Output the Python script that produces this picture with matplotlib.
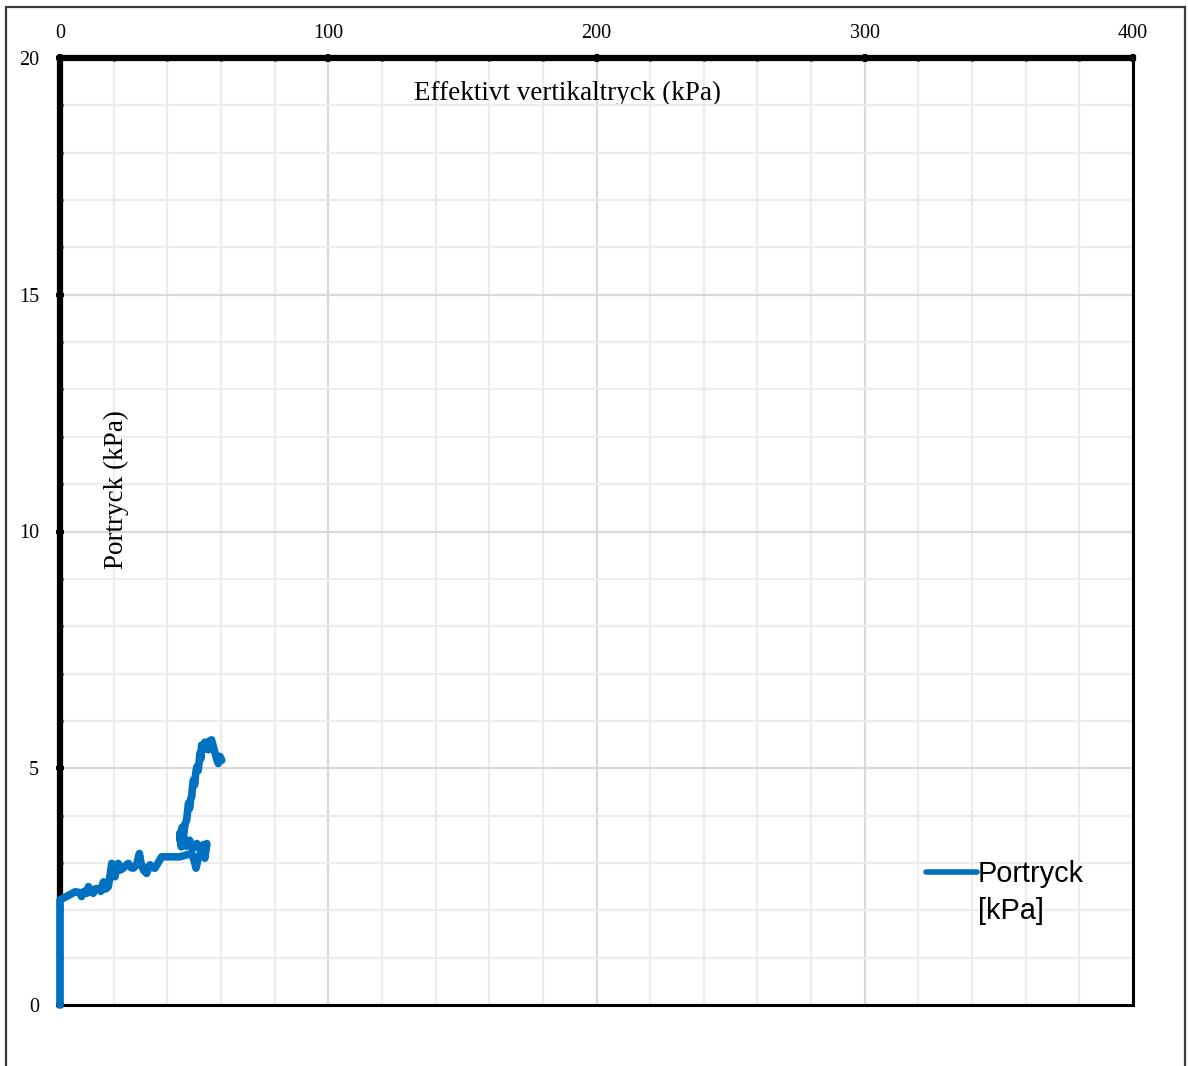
import matplotlib
matplotlib.use("Agg")
import matplotlib.pyplot as plt
from matplotlib.ticker import MultipleLocator
from matplotlib.patches import Rectangle
from matplotlib.legend_handler import HandlerLine2D

# Data: effective vertical stress (kPa) vs pore pressure (kPa)
stress = [0.0, 0.0, 2.0, 4.0, 5.6, 7.0, 7.5, 8.0, 9.0, 10.0, 10.6, 11.5, 12.4, 13.0,
          14.3, 15.2, 16.2, 17.0, 18.0, 18.7, 19.3, 20.0, 20.5, 21.2, 21.7, 22.5,
          23.6, 24.5, 25.5, 26.5, 27.3, 28.5, 29.6, 30.2, 31.1, 32.3, 33.0, 33.6,
          34.5, 35.4, 37.9, 44.7, 49.1, 50.0, 50.7, 51.5, 52.5, 53.4, 54.0, 54.7,
          54.3, 53.2, 52.0, 51.0, 49.5, 48.3, 47.2, 46.0, 45.2, 44.7, 44.9, 45.5,
          46.0, 46.6, 47.2, 47.5, 47.9, 48.3, 48.7, 49.1, 49.3, 49.7, 50.2, 50.6,
          51.0, 51.5, 52.2, 52.5, 52.8, 53.5, 54.0, 54.3, 55.3, 55.8, 56.5, 57.2,
          57.8, 58.4, 59.0, 59.6, 60.3]
pore = [0.0, 2.22, 2.28, 2.34, 2.39, 2.38, 2.36, 2.29, 2.40, 2.36, 2.50, 2.40, 2.36, 2.45,
        2.46, 2.40, 2.60, 2.45, 2.50, 2.75, 2.99, 2.80, 2.71, 2.95, 2.99, 2.85,
        2.89, 2.95, 2.99, 2.90, 2.89, 2.95, 3.20, 3.00, 2.85, 2.78, 2.92, 2.96,
        2.90, 2.89, 3.13, 3.13, 3.20, 3.05, 2.89, 3.10, 3.22, 3.27, 3.10, 3.41,
        3.30, 3.38, 3.30, 3.41, 3.30, 3.48, 3.35, 3.55, 3.34, 3.63, 3.45, 3.75,
        3.55, 3.82, 3.90, 4.05, 4.26, 4.15, 4.35, 4.40, 4.55, 4.75, 4.65, 4.90,
        5.03, 4.95, 5.32, 5.20, 5.49, 5.40, 5.55, 5.45, 5.39, 5.58, 5.60, 5.45,
        5.32, 5.20, 5.10, 5.25, 5.17]

x_ticks = [0, 100, 200, 300, 400]
y_ticks = [0, 5, 10, 15, 20]
x_label = "Effektivt vertikaltryck (kPa)"
y_label = "Portryck (kPa)"
series_label = "Portryck\n[kPa]"

plt.rcParams['font.family'] = ['Liberation Serif', 'DejaVu Serif']


class FirstLineHandler(HandlerLine2D):
    """Place the legend line next to the first text line."""
    def __init__(self, shift, **kw):
        super().__init__(**kw)
        self.shift = shift

    def create_artists(self, legend, orig_handle, xdescent, ydescent, width, height,
                       fontsize, trans):
        arts = super().create_artists(legend, orig_handle, xdescent, ydescent, width,
                                      height, fontsize, trans)
        for a in arts:
            a.set_ydata([y + self.shift * fontsize for y in a.get_ydata()])
        return arts


fig = plt.figure(figsize=(11.88, 10.66), dpi=100)
ax = fig.add_axes([60/1188, 1-1005/1066, (1133-60)/1188, (1005-58)/1066])

# outer frame
fig.patches.append(Rectangle((6/1188, -0.01), (1185-6)/1188, 1-7/1066 + 0.01,
                             transform=fig.transFigure, fill=False,
                             edgecolor='#3a3a3a', linewidth=1.6))

line, = ax.plot(stress, pore, color='#0070c0', linewidth=5.5, solid_joinstyle='round',
                solid_capstyle='round', zorder=5, clip_on=False)

ax.set_xlim(0, 400)
ax.set_ylim(0, 20)
ax.xaxis.set_minor_locator(MultipleLocator(20))
ax.yaxis.set_minor_locator(MultipleLocator(1))
ax.set_xticks(x_ticks)
ax.set_yticks(y_ticks)
ax.set_xticklabels([str(v) for v in x_ticks])
ax.set_yticklabels([str(v) for v in y_ticks])

ax.xaxis.tick_top()
ax.tick_params(axis='x', which='both', top=True, bottom=False, labeltop=True, labelbottom=False)
ax.tick_params(axis='both', which='major', direction='inout', length=6, width=3,
               color='black', labelsize=14.5, pad=8)
ax.tick_params(axis='both', which='minor', direction='inout', length=5, width=2, color='black')
ax.tick_params(axis='y', which='major', pad=12)

ax.grid(True, which='minor', color='#ececec', linewidth=1.6)
ax.grid(True, which='major', color='#d9d9d9', linewidth=1.6)
ax.set_axisbelow(True)

ax.spines['top'].set_linewidth(4.5)
ax.spines['left'].set_linewidth(4.5)
ax.spines['bottom'].set_linewidth(2.2)
ax.spines['right'].set_linewidth(2.2)
for s in ax.spines.values():
    s.set_color('black')

ax.set_xlabel(x_label, fontsize=19.5, va='center')
ax.xaxis.set_label_coords((567-60)/1073, (1005-93)/947)
ax.set_ylabel(y_label, fontsize=19.5, va='center')
ax.yaxis.set_label_coords((116-60)/1073, (1005-490)/947)

leg = ax.legend([line], [series_label], loc='upper left',
                bbox_to_anchor=((900-60)/1073, (1005-834)/947),
                frameon=False, handlelength=1.75, handletextpad=0.05,
                prop={'family': 'Liberation Sans', 'size': 20.8},
                handler_map={line: FirstLineHandler(0.72)})
for t in leg.get_texts():
    t.set_linespacing(1.4)
for h in leg.legend_handles:
    h.set_linewidth(4)

fig.savefig("out.png", dpi=100)
